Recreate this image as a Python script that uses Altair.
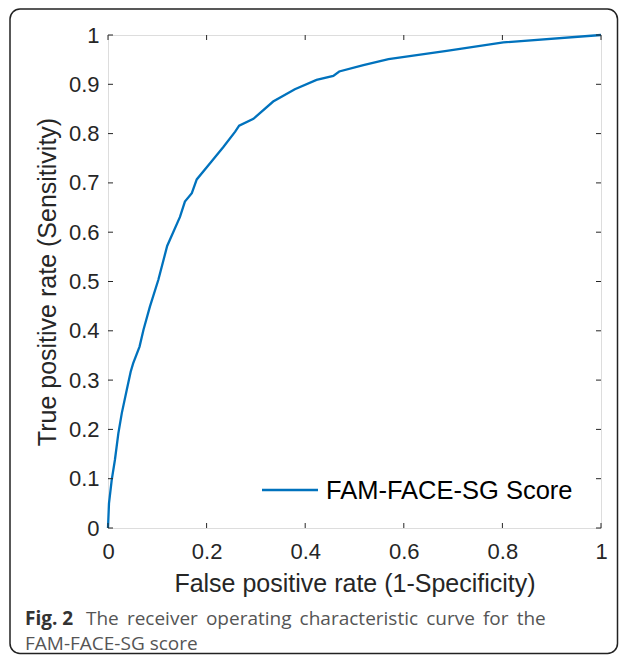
import altair as alt
import pandas as pd

# ROC curve points
fpr = [0.0, 0.002, 0.0075, 0.014, 0.021, 0.028, 0.038, 0.046, 0.051, 0.064, 0.072,
       0.085, 0.102, 0.120, 0.146, 0.156, 0.170, 0.180, 0.207, 0.234, 0.258, 0.266,
       0.295, 0.335, 0.379, 0.423, 0.457, 0.469, 0.518, 0.569, 0.687, 0.802, 1.0]
tpr = [0.0, 0.050, 0.097, 0.138, 0.192, 0.233, 0.280, 0.317, 0.334, 0.368, 0.402,
       0.449, 0.503, 0.572, 0.631, 0.662, 0.679, 0.707, 0.740, 0.773, 0.804, 0.816,
       0.830, 0.865, 0.890, 0.909, 0.917, 0.926, 0.939, 0.951, 0.968, 0.985, 1.0]

x_ticks = [0, 0.2, 0.4, 0.6, 0.8, 1.0]
y_ticks = [0, 0.1, 0.2, 0.3, 0.4, 0.5, 0.6, 0.7, 0.8, 0.9, 1.0]

x_title = "False positive rate (1-Specificity)"
y_title = "True positive rate (Sensitivity)"
legend_label = "FAM-FACE-SG Score"
caption_bold = "Fig. 2"
caption_line1 = ["The", "receiver", "operating", "characteristic", "curve", "for", "the"]
caption_line2 = "FAM-FACE-SG score"

W = 493
H = 493
PAD_L, PAD_T, PAD_R, PAD_B = 100, 27, 18, 127
AX = "#262626"
BLUE = "#0072BD"
FONT = "Liberation Sans"

roc = pd.DataFrame({"fpr": fpr, "tpr": tpr})
xt = pd.DataFrame({"v": x_ticks})
yt = pd.DataFrame({"v": y_ticks})
one = pd.DataFrame({"k": [0]})

xs = alt.Scale(domain=[0, 1], nice=False)
ys = alt.Scale(domain=[0, 1], nice=False)

line = alt.Chart(roc).mark_line(color=BLUE, strokeWidth=2.3).encode(
    x=alt.X("fpr:Q", scale=xs, axis=alt.Axis(
        values=x_ticks, format="~g", ticks=True, tickSize=0, domain=False, grid=False,
        labelFlush=False, labelFontSize=22, labelFont=FONT, labelColor=AX, labelPadding=13,
        title=x_title, titleFont=FONT, titleFontSize=25, titleFontWeight="normal",
        titleColor=AX, titleX=W / 2, titleY=63, titleBaseline="alphabetic", titleAlign="center")),
    y=alt.Y("tpr:Q", scale=ys, axis=alt.Axis(
        values=y_ticks, format="~g", ticks=True, tickSize=0, domain=False, grid=False,
        labelFlush=False, labelFontSize=22, labelFont=FONT, labelColor=AX, labelPadding=9,
        title=y_title, titleFont=FONT, titleFontSize=25, titleFontWeight="normal",
        titleColor=AX, titleX=-61, titleY=H / 2, titleAngle=270, titleBaseline="middle",
        titleAlign="center")),
    order="fpr:Q",
)

tick_len = 5
bx = alt.Chart(xt).mark_rule(color=AX, strokeWidth=1).encode(
    x=alt.X("v:Q", scale=xs), y=alt.value(H), y2=alt.value(H - tick_len))
tx = alt.Chart(xt).mark_rule(color=AX, strokeWidth=1).encode(
    x=alt.X("v:Q", scale=xs), y=alt.value(0), y2=alt.value(tick_len))
ly = alt.Chart(yt).mark_rule(color=AX, strokeWidth=1).encode(
    y=alt.Y("v:Q", scale=ys), x=alt.value(0), x2=alt.value(tick_len))
ry = alt.Chart(yt).mark_rule(color=AX, strokeWidth=1).encode(
    y=alt.Y("v:Q", scale=ys), x=alt.value(W), x2=alt.value(W - tick_len))

# legend (no box)
leg_line = alt.Chart(one).mark_rule(color=BLUE, strokeWidth=2.3).encode(
    x=alt.value(154), x2=alt.value(210), y=alt.value(455))
leg_text = alt.Chart(one).mark_text(
    text=legend_label, font=FONT, fontSize=25.5, color="#000000",
    align="left", baseline="middle").encode(x=alt.value(218), y=alt.value(456))

# frame around figure
frame = alt.Chart(one).mark_rect(
    fill=None, stroke="#222222", strokeWidth=1.5, cornerRadius=10).encode(
    x=alt.value(-98), x2=alt.value(W + PAD_R - 1.5),
    y=alt.value(-26), y2=alt.value(H + PAD_B - 1.5))

# caption (justified first line: extra thin spacing between words)
CAP_FONT = "Open Sans"
CAP_SIZE = 19
cap_bold = alt.Chart(one).mark_text(
    text=caption_bold, font=CAP_FONT, fontSize=CAP_SIZE, fontWeight="bold", color="#333333",
    align="left", baseline="alphabetic").encode(x=alt.value(25 - 108), y=alt.value(625 - 35))
cap1 = alt.Chart(one).mark_text(
    text="\u2006 ".join(caption_line1), font=CAP_FONT, fontSize=CAP_SIZE, color="#555555",
    align="left", baseline="alphabetic").encode(x=alt.value(86 - 108), y=alt.value(625 - 35))
cap2 = alt.Chart(one).mark_text(
    text=caption_line2, font=CAP_FONT, fontSize=CAP_SIZE, color="#555555",
    align="left", baseline="alphabetic").encode(x=alt.value(25 - 108), y=alt.value(650 - 35))

chart = alt.layer(frame, line, bx, tx, ly, ry, leg_line, leg_text, cap_bold, cap1, cap2).properties(
    width=W, height=H,
    autosize=alt.AutoSizeParams(type="none"),
    padding={"left": PAD_L, "top": PAD_T, "right": PAD_R, "bottom": PAD_B},
).configure_view(stroke=AX, strokeWidth=1).configure(background="white")

chart.save("out.html", embed_options={"renderer": "svg", "actions": False})
